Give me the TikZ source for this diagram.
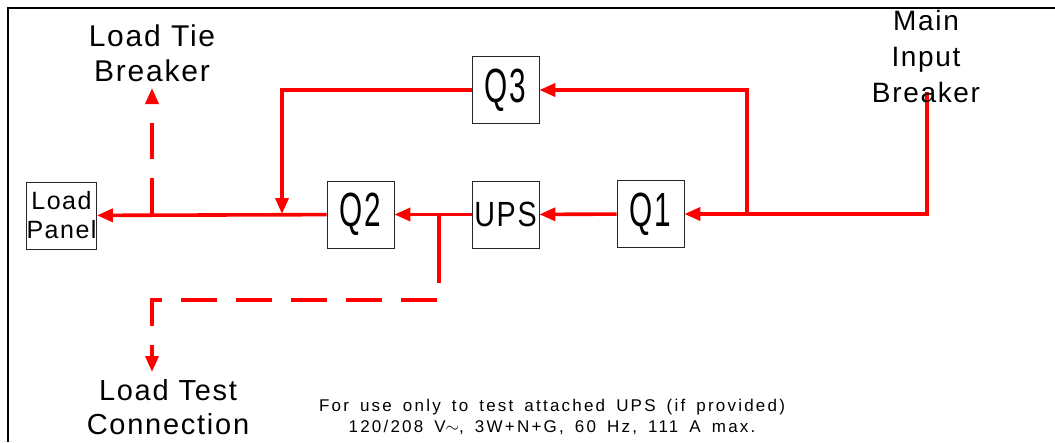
\documentclass[tikz,border=0pt]{standalone}
\usepackage{fontspec}
\setmainfont[LetterSpace=6]{Liberation Sans}
\newfontfamily\notefont[LetterSpace=13,WordSpace=1.6]{Liberation Sans}
\usepackage{graphicx}
\usetikzlibrary{arrows.meta}
\newcommand{\qtext}[2][0.62]{\scalebox{#1}[1]{#2}}

\begin{document}
\begin{tikzpicture}[x=1pt,y=-1pt,
    box/.style={draw=black!85,line width=0.8pt,minimum width=67pt,minimum height=67pt,inner sep=0pt},
    qfont/.style={font=\fontsize{48}{50}\selectfont},
    feed/.style={draw=red,line width=3.6pt,-{Triangle[length=16pt,width=13pt]}},
    feedline/.style={draw=red,line width=3.6pt},
    testline/.style={draw=red,line width=3.6pt,dash pattern=on 36pt off 19pt},
    label/.style={align=center,inner sep=0pt}]
    \useasboundingbox (0,0) rectangle (1055,442);
    \draw[line width=1.2pt] (1055,8) -- (8,8) -- (8,442);
    \node[box,align=center,font=\fontsize{25}{29}\selectfont] (lp) at (61.5,215.5) {Load\\Panel};
    \node[box,qfont] (q2) at (360.5,214.5) {\qtext{Q2}};
    \node[box,font=\fontsize{35}{38}\selectfont] (ups) at (505.5,214.5) {\qtext[0.82]{UPS}};
    \node[box,qfont] (q1) at (650.5,214) {\qtext{Q1}};
    \node[box,qfont] (q3) at (505.5,90) {\qtext{Q3}};
    \coordinate (mib) at (927,92);
    \coordinate (jn) at (747,214);
    \coordinate (byp) at (282,214);
    \coordinate (tie) at (152,214);
    \coordinate (ltb) at (152,88);
    \coordinate (tap) at (439,214);
    \coordinate (tapend) at (439,247);
    \coordinate (ltc) at (152,372);
    \draw[feed] (mib) |- (q1.east);
    \draw[feed] (jn) |- (q3.east);
    \draw[feed] (q1) -- (ups);
    \draw[feed] (ups) -- (q2);
    \draw[feed] (q3.west) -| (byp);
    \draw[feed] (q2) -- (lp);
    \draw[feedline] (tap) -- (tapend);
    % test connections
    \draw[testline,-{Triangle[length=16pt,width=13pt]}] (tie) -- (ltb);
    \draw[testline,-{Triangle[length=16pt,width=13pt]}] (tapend) -- (439,300) -| (ltc);
    \node[label,font=\fontsize{30}{35}\selectfont] (ltbtext) at (152,53) {Load Tie\\Breaker};
    \node[label,font=\fontsize{28}{36}\selectfont] (mibtext) at (926,56) {Main\\Input\\Breaker};
    \node[label,font=\fontsize{29}{34}\selectfont] (ltctext) at (168,407) {Load Test\\Connection};
    \node[label,font=\notefont\fontsize{17}{21}\selectfont] (note) at (552,417) {For use only to test attached UPS (if provided)\\120/208 V$\sim$, 3W+N+G, 60 Hz, 111 A max.};
\end{tikzpicture}
\end{document}
